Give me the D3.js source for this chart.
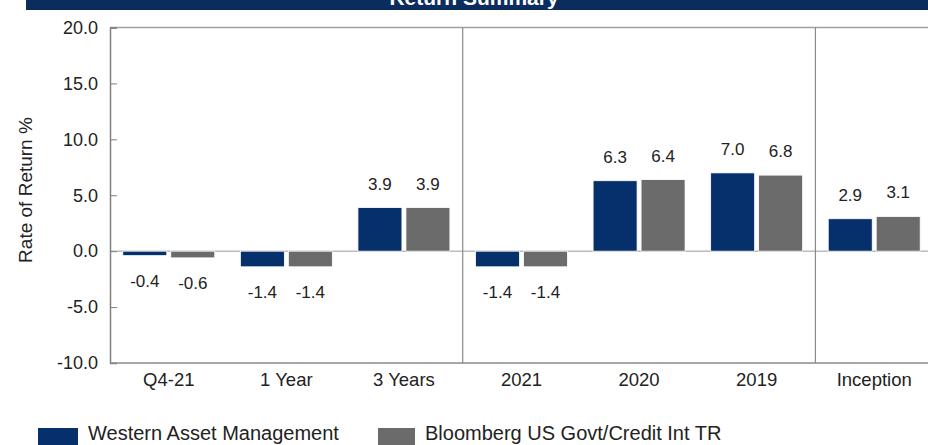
<!DOCTYPE html>
<html><head><meta charset="utf-8">
<script src="https://cdn.jsdelivr.net/npm/d3@7"></script>
<style>
body{margin:0;background:#fff;}
svg{display:block;font-family:"Liberation Sans",Arial,sans-serif;}
</style></head>
<body><svg id="c" width="928" height="445"></svg>
<script>
const categories = ["Q4-21","1 Year","3 Years","2021","2020","2019","Inception"];
const seriesNames = ["Western Asset Management","Bloomberg US Govt/Credit Int TR"];
const westernAsset = [-0.4,-1.4,3.9,-1.4,6.3,7.0,2.9];
const bloomberg = [-0.6,-1.4,3.9,-1.4,6.4,6.8,3.1];
const yTicks = [-10,-5,0,5,10,15,20];
const separatorsAfter = ["3 Years","2019"];
const colors = ["#06306c","#6b6b6b"];

const fmt = v => v.toFixed(1);
const svg = d3.select("#c");
const L=110, R=933, T=27.5, B=363;

// title bar
svg.append("rect").attr("x",26).attr("y",0).attr("width",902).attr("height",10).attr("fill","#0b2d5e");
svg.append("text").attr("x",474).attr("y",5).attr("text-anchor","middle")
  .attr("fill","#fff").attr("font-weight","bold").attr("font-size",21).text("Return Summary");

const x0 = d3.scaleBand().domain(categories).range([L,R]).padding(0);
const inner = 12.8;
const x1 = d3.scaleBand().domain(seriesNames).range([inner, x0.bandwidth()-inner]).paddingInner(0.083).paddingOuter(0);
const y = d3.scaleLinear().domain([-10,20]).range([B,T]);

// zero line
svg.append("line").attr("x1",L).attr("x2",928).attr("y1",y(0)).attr("y2",y(0))
  .attr("stroke","#9a9a9a").attr("stroke-width",1);

// frame top
svg.append("line").attr("x1",L).attr("x2",928).attr("y1",T).attr("y2",T).attr("stroke","#a0a0a0").attr("stroke-width",1.5);
// separators
separatorsAfter.forEach(c=>{
  const xs = x0(c)+x0.bandwidth();
  svg.append("line").attr("x1",xs).attr("x2",xs).attr("y1",T).attr("y2",B).attr("stroke","#8a8a8a").attr("stroke-width",1.2);
});

// bars
const data = categories.map((c,i)=>({cat:c, vals:[westernAsset[i], bloomberg[i]]}));
const g = svg.append("g");
data.forEach(d=>{
  d.vals.forEach((v,j)=>{
    const bx = x0(d.cat)+x1(seriesNames[j]);
    const bw = x1.bandwidth();
    g.append("rect").attr("x",bx).attr("width",bw)
      .attr("y",Math.min(y(v),y(0))).attr("height",Math.abs(y(v)-y(0)))
      .attr("fill",colors[j]).attr("stroke","#fff").attr("stroke-width",0.8);
    g.append("text").attr("x",bx+bw/2)
      .attr("y", v>=0 ? y(v)-18 : y(v)+31)
      .attr("text-anchor","middle").attr("font-size",17).attr("fill","#222")
      .text(fmt(v));
  });
});

// y axis
const yAxis = d3.axisLeft(y).tickValues(yTicks).tickFormat(fmt).tickSize(-7).tickPadding(12);
const ya = svg.append("g").attr("transform",`translate(${L},0)`).call(yAxis);
ya.select(".domain").attr("stroke","#808080").attr("stroke-width",1.5);
ya.selectAll(".tick line").attr("stroke","#808080");
ya.selectAll(".tick text").attr("font-size",18).attr("fill","#222").attr("font-family","Liberation Sans, Arial, sans-serif");

// x axis
const xAxis = d3.axisBottom(x0).tickSize(0).tickPadding(0);
const xa = svg.append("g").attr("transform",`translate(0,${B})`).call(xAxis);
xa.select(".domain").remove();
xa.selectAll(".tick text").attr("font-size",18.5).attr("fill","#222").attr("dy",0).attr("y",23)
  .attr("font-family","Liberation Sans, Arial, sans-serif");
svg.append("line").attr("x1",L).attr("x2",928).attr("y1",B).attr("y2",B).attr("stroke","#8a8a8a").attr("stroke-width",1.5);

// axis title
svg.append("text").attr("transform","translate(32,190) rotate(-90)").attr("text-anchor","middle")
  .attr("font-size",19).attr("fill","#222").text("Rate of Return %");

// legend
const legendX = [38,378];
const legendW = [40,37];
seriesNames.forEach((n,j)=>{
  svg.append("rect").attr("x",legendX[j]).attr("y",428).attr("width",legendW[j]).attr("height",20).attr("fill",colors[j]);
  svg.append("text").attr("x",legendX[j]+legendW[j]+10).attr("y",440).attr("font-size",20).attr("fill","#222").text(n);
});
</script></body></html>
